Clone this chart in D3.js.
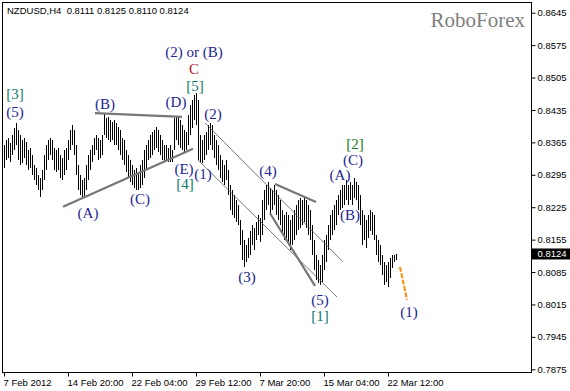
<!DOCTYPE html>
<html>
<head>
<meta charset="utf-8">
<script src="https://cdn.jsdelivr.net/npm/d3@7"></script>
<style>
    body { margin: 0; background: #fff; }
    #chart-area { width: 570px; height: 391px; }
</style>
</head>
<body>
<div id="chart-area"></div>
<script>
/* * * * * * * * * * * * * *
*   NZDUSD H4 bar chart    *
* * * * * * * * * * * * * */

// H4 bars, one value per bar (high / low), left to right
const barHigh = [
    0.8359, 0.8370, 0.8374, 0.8364, 0.8381, 0.8396, 0.8407, 0.8392, 0.8381, 0.8370,
    0.8374, 0.8366, 0.8349, 0.8353, 0.8338, 0.8316, 0.8310, 0.8295, 0.8288, 0.8305,
    0.8338, 0.8359, 0.8370, 0.8374, 0.8370, 0.8353, 0.8349, 0.8353, 0.8338, 0.8331,
    0.8349, 0.8353, 0.8370, 0.8392, 0.8402, 0.8392, 0.8359, 0.8316, 0.8295, 0.8284,
    0.8288, 0.8316, 0.8338, 0.8349, 0.8359, 0.8374, 0.8381, 0.8374, 0.8370, 0.8381,
    0.8428, 0.8418, 0.8420, 0.8413, 0.8409, 0.8413, 0.8407, 0.8398, 0.8392, 0.8374,
    0.8370, 0.8349, 0.8338, 0.8327, 0.8316, 0.8305, 0.8310, 0.8301, 0.8316, 0.8327,
    0.8349, 0.8359, 0.8370, 0.8381, 0.8387, 0.8392, 0.8398, 0.8392, 0.8381, 0.8370,
    0.8359, 0.8359, 0.8353, 0.8359, 0.8349, 0.8418, 0.8420, 0.8420, 0.8413, 0.8402,
    0.8392, 0.8387, 0.8424, 0.8446, 0.8456, 0.8467, 0.8472, 0.8456, 0.8381, 0.8370,
    0.8381, 0.8387, 0.8402, 0.8407, 0.8402, 0.8381, 0.8370, 0.8359, 0.8338, 0.8327,
    0.8316, 0.8327, 0.8305, 0.8273, 0.8262, 0.8251, 0.8241, 0.8230, 0.8197, 0.8176,
    0.8154, 0.8143, 0.8159, 0.8173, 0.8187, 0.8180, 0.8193, 0.8208, 0.8202, 0.8241,
    0.8262, 0.8273, 0.8279, 0.8266, 0.8262, 0.8273, 0.8262, 0.8251, 0.8241, 0.8219,
    0.8208, 0.8215, 0.8208, 0.8197, 0.8208, 0.8219, 0.8230, 0.8241, 0.8245, 0.8241,
    0.8247, 0.8241, 0.8230, 0.8219, 0.8187, 0.8154, 0.8122, 0.8111, 0.8100, 0.8122,
    0.8154, 0.8165, 0.8187, 0.8208, 0.8219, 0.8230, 0.8241, 0.8251, 0.8262, 0.8273,
    0.8273, 0.8284, 0.8273, 0.8279, 0.8273, 0.8288, 0.8279, 0.8273, 0.8251, 0.8219,
    0.8208, 0.8197, 0.8208, 0.8219, 0.8215, 0.8208, 0.8165, 0.8154, 0.8143, 0.8122,
    0.8107, 0.8100, 0.8107, 0.8115, 0.8122, 0.8122, 0.8125
];
const barLow = [
    0.8310, 0.8327, 0.8331, 0.8323, 0.8338, 0.8349, 0.8359, 0.8327, 0.8316, 0.8320,
    0.8331, 0.8316, 0.8305, 0.8310, 0.8295, 0.8284, 0.8273, 0.8262, 0.8247, 0.8262,
    0.8284, 0.8305, 0.8327, 0.8338, 0.8327, 0.8305, 0.8301, 0.8305, 0.8288, 0.8284,
    0.8295, 0.8305, 0.8327, 0.8349, 0.8359, 0.8338, 0.8295, 0.8262, 0.8251, 0.8245,
    0.8249, 0.8262, 0.8284, 0.8305, 0.8323, 0.8338, 0.8349, 0.8327, 0.8331, 0.8338,
    0.8381, 0.8374, 0.8370, 0.8366, 0.8370, 0.8359, 0.8359, 0.8349, 0.8338, 0.8327,
    0.8316, 0.8301, 0.8288, 0.8279, 0.8273, 0.8266, 0.8262, 0.8262, 0.8266, 0.8273,
    0.8288, 0.8305, 0.8327, 0.8331, 0.8338, 0.8349, 0.8353, 0.8344, 0.8338, 0.8327,
    0.8323, 0.8327, 0.8323, 0.8323, 0.8323, 0.8349, 0.8370, 0.8359, 0.8353, 0.8349,
    0.8344, 0.8349, 0.8359, 0.8381, 0.8396, 0.8413, 0.8402, 0.8327, 0.8323, 0.8320,
    0.8327, 0.8338, 0.8349, 0.8359, 0.8349, 0.8331, 0.8316, 0.8305, 0.8288, 0.8279,
    0.8273, 0.8284, 0.8251, 0.8219, 0.8208, 0.8202, 0.8193, 0.8187, 0.8143, 0.8111,
    0.8096, 0.8107, 0.8115, 0.8122, 0.8143, 0.8133, 0.8154, 0.8165, 0.8150, 0.8165,
    0.8197, 0.8219, 0.8230, 0.8208, 0.8219, 0.8230, 0.8208, 0.8197, 0.8187, 0.8165,
    0.8154, 0.8159, 0.8143, 0.8133, 0.8143, 0.8154, 0.8165, 0.8176, 0.8180, 0.8187,
    0.8193, 0.8180, 0.8165, 0.8154, 0.8122, 0.8089, 0.8068, 0.8061, 0.8057, 0.8063,
    0.8089, 0.8107, 0.8133, 0.8154, 0.8165, 0.8176, 0.8187, 0.8208, 0.8219, 0.8223,
    0.8230, 0.8241, 0.8230, 0.8241, 0.8230, 0.8245, 0.8241, 0.8219, 0.8187, 0.8143,
    0.8154, 0.8137, 0.8159, 0.8173, 0.8165, 0.8154, 0.8122, 0.8107, 0.8100, 0.8079,
    0.8057, 0.8063, 0.8053, 0.8072, 0.8094, 0.8107, 0.8110
];

// last bar quote: open, high, low, close
const lastQuote = [0.8111, 0.8125, 0.8110, 0.8124];

// price axis
const priceTicks = [0.8645, 0.8575, 0.8505, 0.8435, 0.8365, 0.8295,
                    0.8225, 0.8155, 0.8085, 0.8015, 0.7945, 0.7875];

// time axis: labels and the bar they sit on
const timeLabels = ["7 Feb 2012", "14 Feb 20:00", "22 Feb 04:00", "29 Feb 12:00",
                    "7 Mar 20:00", "15 Mar 04:00", "22 Mar 12:00"];
const timeLabelBars = [0, 32, 64, 96, 128, 160, 192];

// wave marks: bar, price, text, kind
const waveLabels = [
    [5.5, 0.8467, "[3]", "major"],
    [5.5, 0.8428, "(5)", "minor"],
    [50.5, 0.8446, "(B)", "minor"],
    [86, 0.8450, "(D)", "minor"],
    [95, 0.8558, "(2) or (B)", "minor"],
    [95, 0.8521, "C", "red"],
    [95.5, 0.8484, "[5]", "major"],
    [104.5, 0.8424, "(2)", "minor"],
    [99.5, 0.8295, "(1)", "minor"],
    [90, 0.8305, "(E)", "minor"],
    [90.5, 0.8273, "[4]", "major"],
    [42, 0.8210, "(A)", "minor"],
    [68, 0.8241, "(C)", "minor"],
    [132, 0.8301, "(4)", "minor"],
    [121.5, 0.8072, "(3)", "minor"],
    [158, 0.8022, "(5)", "minor"],
    [158, 0.7988, "[1]", "major"],
    [168, 0.8292, "(A)", "minor"],
    [174.5, 0.8325, "(C)", "minor"],
    [175.5, 0.8359, "[2]", "green"],
    [173, 0.8206, "(B)", "minor"],
    [202.5, 0.7997, "(1)", "minor"]
];

// drawn lines: from [bar, price] to [bar, price], kind
const trendLines = [
    [[45.5, 0.8428], [89, 0.8420], "thick"],
    [[29.5, 0.8226], [94.5, 0.8351], "thick"],
    [[100.5, 0.8407], [169.5, 0.8107], "thin"],
    [[97, 0.8327], [166.5, 0.8031], "thin"],
    [[135.5, 0.8275], [156, 0.8236], "thick"],
    [[133, 0.8212], [155.5, 0.8055], "thick"],
    [[198, 0.8096], [201.5, 0.8025], "forecast"]
];


class BarChart {

    constructor(parentElement) {
        this.parentElement = parentElement;
        this.labelColors = {minor: "#1e2494", major: "#0f7a70", green: "#1b7a25", red: "#b3201f"};
        this.initVis();
    }

    initVis() {
        let vis = this;

        vis.width = 570;
        vis.height = 391;
        vis.plot = {left: 2.5, top: 2.5, right: 531.5, bottom: 372.5};

        vis.svg = d3.select("#" + vis.parentElement).append("svg")
            .attr("width", vis.width)
            .attr("height", vis.height)
            .style("display", "block");

        // scales: bar index -> x, price -> y
        vis.x = d3.scaleLinear()
            .domain([0, barHigh.length - 1])
            .range([4, 396]);

        vis.y = d3.scaleLinear()
            .domain([0.7875, 0.8645])
            .range([369.3, 12.7]);

        // frame
        vis.svg.append("rect")
            .attr("x", vis.plot.left)
            .attr("y", vis.plot.top)
            .attr("width", vis.plot.right - vis.plot.left)
            .attr("height", vis.plot.bottom - vis.plot.top)
            .attr("fill", "none")
            .attr("stroke", "#000");

        vis.wrangleData();
    }

    wrangleData() {
        let vis = this;

        vis.displayData = barHigh.map((h, i) => ({i: i, high: h, low: barLow[i]}));

        vis.updateVis();
    }

    updateVis() {
        let vis = this;

        // axes
        let yAxis = d3.axisRight(vis.y)
            .tickValues(priceTicks)
            .tickSize(4)
            .tickPadding(2)
            .tickFormat(d3.format(".4f"));

        let yg = vis.svg.append("g")
            .attr("class", "y-axis")
            .attr("transform", "translate(" + vis.plot.right + ",0)")
            .call(yAxis);
        yg.select(".domain").remove();

        let xAxis = d3.axisBottom(vis.x)
            .tickValues(timeLabelBars)
            .tickSize(4)
            .tickPadding(3)
            .tickFormat((d, i) => timeLabels[i]);

        let xg = vis.svg.append("g")
            .attr("class", "x-axis")
            .attr("transform", "translate(0," + vis.plot.bottom + ")")
            .call(xAxis);
        xg.select(".domain").remove();
        xg.selectAll("text").attr("text-anchor", "start").attr("dx", -1);

        vis.svg.selectAll(".y-axis, .x-axis")
            .attr("font-family", "'Liberation Sans', Arial, sans-serif")
            .attr("font-size", 9.5);

        // bars
        vis.svg.append("g")
            .attr("class", "bars")
            .attr("shape-rendering", "crispEdges")
            .selectAll(".bar")
            .data(vis.displayData)
            .enter()
            .append("line")
            .attr("class", "bar")
            .attr("x1", d => Math.round(vis.x(d.i)) + 0.5)
            .attr("x2", d => Math.round(vis.x(d.i)) + 0.5)
            .attr("y1", d => Math.round(vis.y(d.high)))
            .attr("y2", d => Math.round(vis.y(d.low)))
            .attr("stroke", "#000")
            .attr("stroke-width", 1);

        // trend lines
        vis.svg.append("g")
            .attr("class", "trend-lines")
            .selectAll("line")
            .data(trendLines)
            .enter()
            .append("line")
            .attr("x1", d => vis.x(d[0][0]))
            .attr("y1", d => vis.y(d[0][1]))
            .attr("x2", d => vis.x(d[1][0]))
            .attr("y2", d => vis.y(d[1][1]))
            .attr("stroke", d => d[2] == "forecast" ? "#f7941d" : (d[2] == "thick" ? "#777" : "#555"))
            .attr("stroke-width", d => d[2] == "thin" ? 0.8 : 2.2)
            .attr("stroke-dasharray", d => d[2] == "forecast" ? "5,1.5" : null);

        // wave labels
        vis.svg.append("g")
            .attr("class", "wave-labels")
            .selectAll("text")
            .data(waveLabels)
            .enter()
            .append("text")
            .attr("x", d => vis.x(d[0]))
            .attr("y", d => vis.y(d[1]))
            .attr("dy", "0.27em")
            .attr("text-anchor", "middle")
            .attr("font-family", "'Liberation Serif', 'Times New Roman', serif")
            .attr("font-size", 15)
            .attr("fill", d => vis.labelColors[d[3]])
            .text(d => d[2]);

        // current price marker
        let last = lastQuote[3];
        vis.svg.append("rect")
            .attr("x", vis.plot.right + 0.5)
            .attr("y", vis.y(last) - 5.5)
            .attr("width", 38)
            .attr("height", 11)
            .attr("fill", "#000");
        vis.svg.append("text")
            .attr("x", vis.plot.right + 6)
            .attr("y", vis.y(last))
            .attr("dy", "0.35em")
            .attr("font-family", "'Liberation Sans', Arial, sans-serif")
            .attr("font-size", 9.5)
            .attr("fill", "#fff")
            .text(d3.format(".4f")(last));

        // header and watermark
        vis.svg.append("text")
            .attr("x", 7)
            .attr("y", 14)
            .attr("font-family", "'Liberation Sans', Arial, sans-serif")
            .attr("font-size", 9.5)
            .style("white-space", "pre")
            .text("NZDUSD,H4  " + lastQuote.map(d3.format(".4f")).join(" "));

        vis.svg.append("text")
            .attr("x", 525)
            .attr("y", 27)
            .attr("text-anchor", "end")
            .attr("font-family", "'Liberation Serif', 'Times New Roman', serif")
            .attr("font-size", 21)
            .attr("fill", "#808080")
            .text("RoboForex");
    }
}

new BarChart("chart-area");
</script>
</body>
</html>
